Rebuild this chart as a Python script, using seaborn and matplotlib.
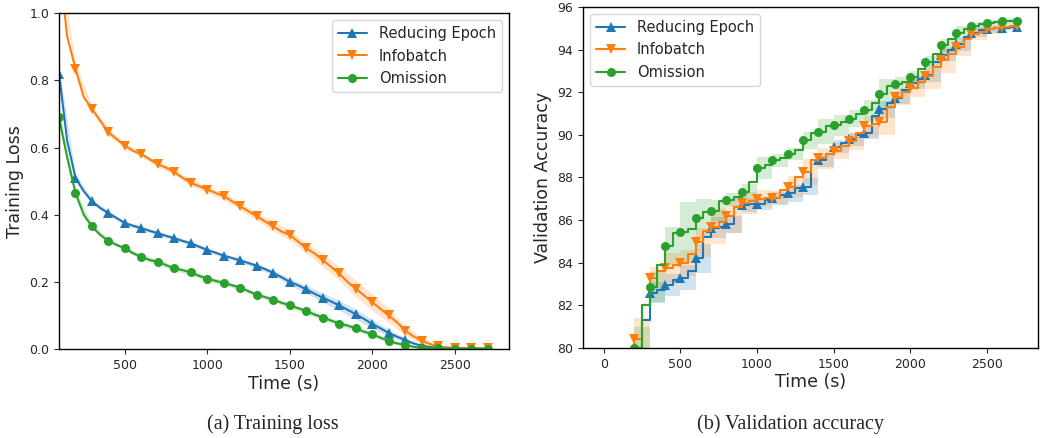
import numpy as np
import matplotlib
matplotlib.use("Agg")
import matplotlib.pyplot as plt
import seaborn as sns

# ---------------- data ----------------
methods = ["Reducing Epoch", "Infobatch", "Omission"]
colors = ["#1f77b4", "#ff7f0e", "#2ca02c"]
markers = ["^", "v", "o"]

# (a) training loss, sampled every 50 s from 100 s to 2700 s
loss_time = np.arange(100, 2701, 50)
loss_reducing = [0.82, 0.62, 0.51, 0.47, 0.44, 0.42, 0.405, 0.39, 0.375, 0.367,
                 0.36, 0.352, 0.345, 0.337, 0.33, 0.322, 0.315, 0.305, 0.295, 0.287,
                 0.278, 0.271, 0.264, 0.256, 0.248, 0.238, 0.227, 0.214, 0.2, 0.19,
                 0.178, 0.165, 0.153, 0.142, 0.13, 0.117, 0.104, 0.09, 0.075, 0.062,
                 0.048, 0.037, 0.027, 0.017, 0.01, 0.006, 0.004, 0.003, 0.002, 0.002,
                 0.002, 0.001, 0.001]
loss_infobatch = [1.15, 0.93, 0.835, 0.75, 0.715, 0.68, 0.645, 0.625, 0.605, 0.59,
                  0.58, 0.565, 0.55, 0.54, 0.527, 0.51, 0.495, 0.485, 0.475, 0.465,
                  0.455, 0.44, 0.425, 0.41, 0.395, 0.38, 0.365, 0.35, 0.34, 0.32,
                  0.3, 0.285, 0.265, 0.245, 0.225, 0.2, 0.18, 0.16, 0.14, 0.12,
                  0.1, 0.08, 0.055, 0.038, 0.025, 0.015, 0.008, 0.005, 0.004, 0.003,
                  0.003, 0.002, 0.002]
loss_omission = [0.69, 0.57, 0.465, 0.40, 0.365, 0.34, 0.322, 0.31, 0.30, 0.285,
                 0.275, 0.265, 0.26, 0.25, 0.24, 0.235, 0.228, 0.218, 0.21, 0.203,
                 0.197, 0.19, 0.183, 0.172, 0.162, 0.155, 0.147, 0.138, 0.13, 0.122,
                 0.113, 0.103, 0.094, 0.085, 0.076, 0.07, 0.062, 0.052, 0.044, 0.034,
                 0.024, 0.017, 0.012, 0.007, 0.004, 0.003, 0.002, 0.002, 0.001, 0.001,
                 0.001, 0.001, 0.001]
# spread (half width of shaded band) every 100 s from 100 s to 2700 s
loss_spread_reducing = [0.02, 0.01, 0.008, 0.006, 0.006, 0.006, 0.006, 0.006, 0.006, 0.006,
                        0.006, 0.006, 0.007, 0.008, 0.01, 0.012, 0.014, 0.015, 0.015, 0.013,
                        0.01, 0.007, 0.004, 0.002, 0.001, 0.001, 0.001]
loss_spread_infobatch = [0.03, 0.015, 0.01, 0.01, 0.008, 0.008, 0.008, 0.008, 0.01, 0.01,
                         0.01, 0.012, 0.012, 0.015, 0.015, 0.015, 0.02, 0.02, 0.025, 0.025,
                         0.02, 0.015, 0.01, 0.005, 0.003, 0.002, 0.001]
loss_spread_omission = [0.02, 0.01, 0.008, 0.006, 0.006, 0.008, 0.008, 0.008, 0.008, 0.008,
                        0.007, 0.007, 0.007, 0.007, 0.007, 0.007, 0.008, 0.008, 0.008, 0.007,
                        0.006, 0.004, 0.003, 0.002, 0.001, 0.001, 0.001]

# (b) validation accuracy, sampled every 50 s from 0 s to 2700 s
acc_time = np.arange(0, 2701, 50)
acc_reducing = [65.0, 67.0, 70.0, 73.0, 76.0, 81.3, 82.6, 82.7, 82.95, 83.2,
                83.3, 83.6, 84.2, 85.2, 85.65, 85.7, 85.8, 86.6, 86.7, 86.75,
                86.76, 86.95, 87.03, 87.2, 87.26, 87.5, 87.57, 88.8, 88.8, 89.1,
                89.45, 89.6, 89.8, 90.0, 90.1, 90.9, 91.2, 91.5, 91.75, 92.1,
                92.45, 92.6, 92.8, 93.4, 93.75, 94.0, 94.25, 94.6, 94.8, 94.9,
                94.95, 95.0, 95.0, 95.05, 95.05]
acc_infobatch = [66.0, 69.0, 72.0, 78.0, 80.4, 82.0, 83.3, 83.6, 83.75, 83.9,
                 84.0, 84.4, 84.95, 85.5, 85.7, 85.9, 86.2, 86.6, 86.8, 86.9,
                 87.0, 87.05, 87.06, 87.4, 87.57, 88.0, 88.25, 88.8, 88.9, 89.1,
                 89.25, 89.5, 89.7, 90.1, 90.4, 90.5, 90.6, 91.3, 91.8, 92.0,
                 92.2, 92.5, 92.75, 93.2, 93.5, 93.8, 94.1, 94.5, 94.75, 94.85,
                 94.95, 95.0, 95.05, 95.1, 95.1]
acc_omission = [70.0, 72.0, 74.0, 77.0, 80.0, 82.0, 82.85, 83.9, 84.8, 85.4,
                85.45, 85.6, 86.1, 86.4, 86.45, 86.9, 86.95, 87.1, 87.3, 87.8,
                88.45, 88.6, 88.8, 88.9, 89.1, 89.3, 89.75, 90.1, 90.15, 90.4,
                90.45, 90.6, 90.75, 91.0, 91.15, 91.5, 91.9, 92.3, 92.4, 92.5,
                92.7, 93.1, 93.4, 93.8, 94.2, 94.5, 94.8, 94.95, 95.1, 95.2,
                95.25, 95.3, 95.32, 95.35, 95.35]
# spread every 100 s from 0 s to 2700 s
acc_spread_reducing = [1.0, 1.0, 1.0, 0.5, 0.5, 0.6, 0.7, 0.5, 0.4, 0.3,
                       0.3, 0.3, 0.4, 0.4, 0.3, 0.3, 0.3, 0.3, 0.4, 0.3,
                       0.3, 0.3, 0.3, 0.3, 0.2, 0.15, 0.1, 0.1]
acc_spread_infobatch = [1.0, 1.0, 1.0, 0.5, 0.7, 0.6, 0.7, 0.8, 0.8, 0.5,
                        0.4, 0.3, 0.5, 0.6, 0.5, 0.4, 0.4, 0.5, 0.6, 0.4,
                        0.4, 0.6, 0.6, 0.4, 0.3, 0.2, 0.1, 0.1]
acc_spread_omission = [1.0, 1.0, 1.0, 0.7, 0.9, 1.4, 0.9, 0.5, 0.3, 0.4,
                       0.5, 0.3, 0.3, 0.4, 0.6, 0.5, 0.4, 0.5, 0.7, 0.3,
                       0.3, 0.3, 0.3, 0.3, 0.2, 0.15, 0.15, 0.15]

# ---------------- figure ----------------
sns.set_style("ticks")
plt.rcParams["font.family"] = ["DejaVu Sans"]
plt.rcParams["axes.linewidth"] = 1.0

fig = plt.figure(figsize=(10.4, 4.38), dpi=100)
ax1 = fig.add_axes([0.0567, 0.203, 0.4327, 0.767])
ax2 = fig.add_axes([0.5606, 0.2055, 0.4375, 0.7785])

loss_means = [loss_reducing, loss_infobatch, loss_omission]
loss_spreads = [loss_spread_reducing, loss_spread_infobatch, loss_spread_omission]
for name, c, m, mean, sp in zip(methods, colors, markers, loss_means, loss_spreads):
    mean = np.asarray(mean)
    sp = np.asarray(sp)
    bt = loss_time[::2]
    ax1.fill_between(bt, mean[::2] - sp, mean[::2] + sp, color=c, alpha=0.2, lw=0)
    sns.lineplot(x=loss_time, y=mean, ax=ax1, color=c, marker=m, markevery=2,
                 markersize=6.5, markeredgewidth=0, linewidth=1.5, label=name,
                 errorbar=None)

acc_means = [acc_reducing, acc_infobatch, acc_omission]
acc_spreads = [acc_spread_reducing, acc_spread_infobatch, acc_spread_omission]
for name, c, m, mean, sp in zip(methods, colors, markers, acc_means, acc_spreads):
    mean = np.asarray(mean)
    sp = np.asarray(sp)
    bt = acc_time[::2]
    ax2.fill_between(bt, mean[::2] - sp, mean[::2] + sp, color=c, alpha=0.2,
                     lw=0, step="post")
    sns.lineplot(x=acc_time, y=mean, ax=ax2, color=c, marker=m, markevery=2,
                 markersize=6.5, markeredgewidth=0, linewidth=1.5, label=name,
                 drawstyle="steps-post", errorbar=None)

ax1.set_ylim(0, 1.0)
ax1.set_xlim(left=100)
ax1.set_yticks([0.0, 0.2, 0.4, 0.6, 0.8, 1.0])
ax1.set_xticks([500, 1000, 1500, 2000, 2500])
ax1.set_xlabel("Time (s)", fontsize=12.5)
ax1.set_ylabel("Training Loss", fontsize=12.5)
ax1.legend(loc="upper right", fontsize=10.5)

ax2.set_ylim(80, 96)
ax2.set_yticks([80, 82, 84, 86, 88, 90, 92, 94, 96])
ax2.set_xticks([0, 500, 1000, 1500, 2000, 2500])
ax2.set_xlabel("Time (s)", fontsize=12.5)
ax2.set_ylabel("Validation Accuracy", fontsize=12.5)
ax2.legend(loc="upper left", fontsize=10.5)

for ax in (ax1, ax2):
    ax.tick_params(labelsize=9, direction="out", length=3.5)
    for s in ax.spines.values():
        s.set_visible(True)
        s.set_color("black")
    ax.xaxis.labelpad = 2

fig.text(0.262, 0.008, "(a) Training loss", fontsize=14.5,
         family="Liberation Serif", ha="center", va="bottom")
fig.text(0.76, 0.008, "(b) Validation accuracy", fontsize=14.5,
         family="Liberation Serif", ha="center", va="bottom")

fig.savefig("out.png", dpi=100)
